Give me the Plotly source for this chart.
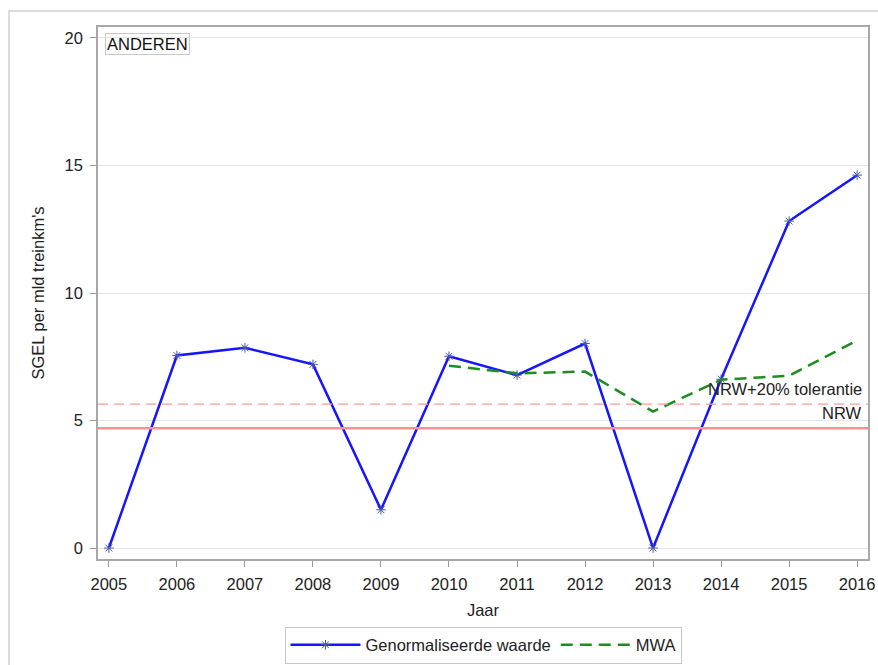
import plotly.graph_objects as go

years = [2005, 2006, 2007, 2008, 2009, 2010, 2011, 2012, 2013, 2014, 2015, 2016]
genorm = [0.0, 7.55, 7.85, 7.2, 1.5, 7.52, 6.78, 8.02, 0.0, 6.62, 12.82, 14.62]
mwa_years = [2010, 2011, 2012, 2013, 2014, 2015, 2016]
mwa = [7.15, 6.85, 6.92, 5.35, 6.6, 6.76, 8.14]
nrw = 4.7
nrw_tol = 5.64
yticks = [0, 5, 10, 15, 20]

FONT = "Liberation Sans, Arial, sans-serif"
FS = 16.5

fig = go.Figure()
fig.add_trace(go.Scatter(
    x=years, y=genorm, mode="lines+markers", name="Genormaliseerde waarde",
    line=dict(color="#1515ff", width=2.5),
    marker=dict(symbol="asterisk-open", size=8, color="#4a5aa8",
                line=dict(color="#4a5aa8", width=1)),
))
fig.add_trace(go.Scatter(
    x=mwa_years, y=mwa, mode="lines", name="MWA",
    line=dict(color="#1e8c1e", width=2.5, dash="12px,7px"),
))

x0, x1 = 2004.84, 2016.16
fig.add_shape(type="line", xref="x", yref="y", x0=x0, x1=x1, y0=nrw, y1=nrw,
              line=dict(color="#ff8f8f", width=2.5), layer="above")
fig.add_shape(type="line", xref="x", yref="y", x0=x0, x1=x1, y0=nrw_tol, y1=nrw_tol,
              line=dict(color="#ff9a9a", width=1.2, dash="10px,6px"), layer="above")
fig.add_annotation(x=1, xref="paper", y=nrw_tol, yref="y", text="NRW+20% tolerantie",
                   showarrow=False, xanchor="right", yanchor="bottom", xshift=-4, yshift=4,
                   font=dict(family=FONT, size=FS, color="#222"))
fig.add_annotation(x=1, xref="paper", y=nrw, yref="y", text="NRW",
                   showarrow=False, xanchor="right", yanchor="bottom", xshift=-4, yshift=4,
                   font=dict(family=FONT, size=FS, color="#222"))
fig.add_annotation(x=0.009, xref="paper", y=0.988, yref="paper", text="ANDEREN",
                   showarrow=False, xanchor="left", yanchor="top",
                   bordercolor="#c8c8c8", borderwidth=1, borderpad=1,
                   font=dict(family=FONT, size=FS, color="#111"))

# outer frame
fig.add_shape(type="rect", xref="paper", yref="paper", x0=-0.1156, x1=1.05, y0=-0.25, y1=1.030,
              line=dict(color="#d0d0d0", width=1.5), layer="below")

fig.update_layout(
    template="none",
    width=878, height=665,
    margin=dict(l=98, r=10, t=27, b=106, autoexpand=False),
    paper_bgcolor="white", plot_bgcolor="white",
    font=dict(family=FONT, size=FS, color="#222"),
    showlegend=True,
    legend=dict(orientation="h", x=0.5, xanchor="center", y=-0.1617, yanchor="middle",
                bordercolor="#c8c8c8", borderwidth=1, font=dict(size=FS),
                itemwidth=70, tracegroupgap=0),
    xaxis=dict(range=[x0, x1], tickvals=years, ticktext=[str(y) for y in years],
               automargin=False,
               showgrid=False, zeroline=False, ticks="outside", ticklen=6, tickcolor="#999",
               showline=True, linecolor="#a8a8a8", linewidth=1.5, mirror=True,
               ticklabelstandoff=3, ticklabeloverflow="allow",
               title=dict(text="Jaar", font=dict(size=FS), standoff=13),
               tickfont=dict(size=FS)),
    yaxis=dict(range=[-0.43, 20.43], tickvals=yticks, ticktext=[str(v) for v in yticks],
               automargin=False,
               showgrid=True, gridcolor="#e6e6e6", gridwidth=1, zeroline=False,
               ticks="outside", ticklen=6, tickcolor="#999",
               showline=True, linecolor="#a8a8a8", linewidth=1.5, mirror=True,
               ticklabelstandoff=4,
               title=dict(text="SGEL per mld treinkm's", font=dict(size=FS), standoff=16),
               tickfont=dict(size=FS)),
)

fig.write_html("out.html", config={"displayModeBar": False},
               post_script="document.body.style.margin='0px';document.body.style.overflow='hidden';")
